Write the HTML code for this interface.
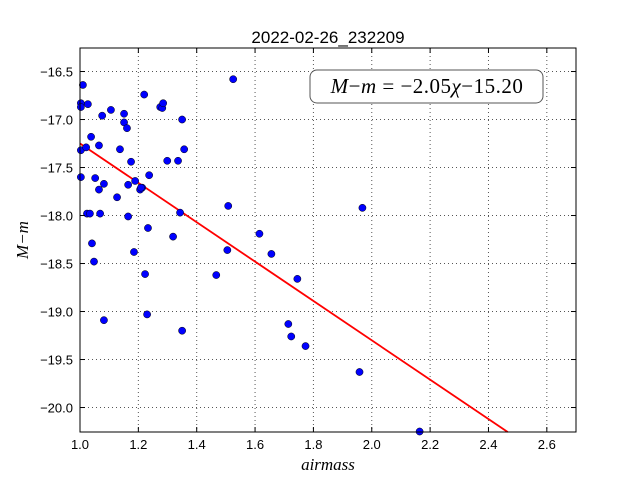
<!DOCTYPE html>
<html><head><meta charset="utf-8"><style>
html,body{margin:0;padding:0;background:#fff;}
svg{display:block;font-family:"Liberation Sans",sans-serif;}
</style></head><body>
<svg id="chart" width="640" height="480">
<rect width="640" height="480" fill="#fff"/>
<text x="328" y="43" text-anchor="middle" font-size="17">2022-02-26_232209</text>
<g id="grid"></g>
<g id="line"></g>
<g id="pts"></g>
<rect x="80" y="48" width="496" height="384" fill="none" stroke="#000" stroke-width="1"/>
<g id="ticks"></g>
<g>
<rect x="310" y="70" width="233" height="33" rx="7" fill="#fff" stroke="#555" stroke-width="1"/>
<text x="427" y="93" text-anchor="middle" font-family="Liberation Serif,serif" font-size="21" letter-spacing="0.5"><tspan font-style="italic">M</tspan>−<tspan font-style="italic">m</tspan> = −2.05<tspan font-style="italic">χ</tspan>−15.20</text>
</g>
<text x="328" y="470" text-anchor="middle" font-family="Liberation Serif,serif" font-style="italic" font-size="17">airmass</text>
<text transform="translate(28,240) rotate(-90)" text-anchor="middle" font-family="Liberation Serif,serif" font-style="italic" font-size="17">M−m</text>
</svg>
<script>
const xVals=[1.010,1.003,1.003,1.027,1.003,1.003,1.076,1.106,1.151,1.151,1.161,1.038,1.065,1.021,1.137,1.052,1.175,1.065,1.082,1.024,1.034,1.069,1.041,1.048,1.082,1.165,1.165,1.127,1.213,1.206,1.189,1.237,1.209,1.233,1.230,1.185,1.223,1.220,1.275,1.282,1.285,1.350,1.299,1.336,1.357,1.350,1.343,1.319,1.525,1.467,1.508,1.505,1.615,1.656,1.745,1.714,1.724,1.773,1.958,1.968,2.164];
const yVals=[-16.64,-16.83,-16.87,-16.84,-17.32,-17.60,-16.96,-16.90,-16.94,-17.03,-17.09,-17.18,-17.27,-17.29,-17.31,-17.61,-17.44,-17.73,-17.67,-17.98,-17.98,-17.98,-18.29,-18.48,-19.09,-18.01,-17.68,-17.81,-17.71,-17.73,-17.64,-17.58,-17.71,-18.13,-19.03,-18.38,-18.61,-16.74,-16.87,-16.88,-16.83,-17.00,-17.43,-17.43,-17.31,-19.20,-17.97,-18.22,-16.58,-18.62,-17.90,-18.36,-18.19,-18.40,-18.66,-19.13,-19.26,-19.36,-19.63,-17.92,-20.25];
const slope=-2.05, intercept=-15.20;
const xTicks=[1.0,1.2,1.4,1.6,1.8,2.0,2.2,2.4,2.6];
const yTicks=[-16.5,-17.0,-17.5,-18.0,-18.5,-19.0,-19.5,-20.0];
const X0=80,X1=576,Y0=48,Y1=432,xmin=1.0,xmax=2.7,ymax=-16.255,ymin=-20.255;
const sx=v=>X0+(v-xmin)/(xmax-xmin)*(X1-X0);
const sy=v=>Y0+(ymax-v)/(ymax-ymin)*(Y1-Y0);
const NS="http://www.w3.org/2000/svg";
function mk(tag,attrs,parent){const e=document.createElementNS(NS,tag);for(const k in attrs)e.setAttribute(k,attrs[k]);document.getElementById(parent).appendChild(e);return e;}
xTicks.forEach(t=>{const x=sx(t);
 const g=mk('line',{x1:x,x2:x,y1:Y0,y2:Y1,stroke:'#555','stroke-dasharray':'1,3','stroke-width':1},'grid');
 
 
 const a=mk('line',{x1:x,x2:x,y1:Y1,y2:Y1-5,stroke:'#000'},'ticks');
 
 
 const b=mk('line',{x1:x,x2:x,y1:Y0,y2:Y0+5,stroke:'#000'},'ticks');
 
 
 const l=mk('text',{x:x,y:Y1+17,'text-anchor':'middle','font-size':13},'ticks');
 l.textContent=t.toFixed(1);
 
 
});
yTicks.forEach(t=>{const y=sy(t);
 const g=mk('line',{x1:X0,x2:X1,y1:y,y2:y,stroke:'#555','stroke-dasharray':'1,3','stroke-width':1},'grid');
 
 
 const a=mk('line',{x1:X0,x2:X0+5,y1:y,y2:y,stroke:'#000'},'ticks');
 
 
 const b=mk('line',{x1:X1,x2:X1-5,y1:y,y2:y,stroke:'#000'},'ticks');
 
 
 const l=mk('text',{x:X0-7,y:y+5,'text-anchor':'end','font-size':13},'ticks');
 l.textContent=(t<0?'−':'')+Math.abs(t).toFixed(1);
 
 
});
const xa=xmin; const xb=Math.min(xmax,(ymin-intercept)/slope);
const fl=mk('line',{x1:sx(xa),y1:sy(slope*xa+intercept),x2:sx(xb),y2:sy(slope*xb+intercept),stroke:'#f00','stroke-width':1.8},'line');


xVals.forEach((v,i)=>{
 const c=mk('circle',{cx:sx(v),cy:sy(yVals[i]),r:3.6,fill:'#0000ff',stroke:'#000','stroke-width':0.5},'pts');
 
 
});
</script>
</body></html>
